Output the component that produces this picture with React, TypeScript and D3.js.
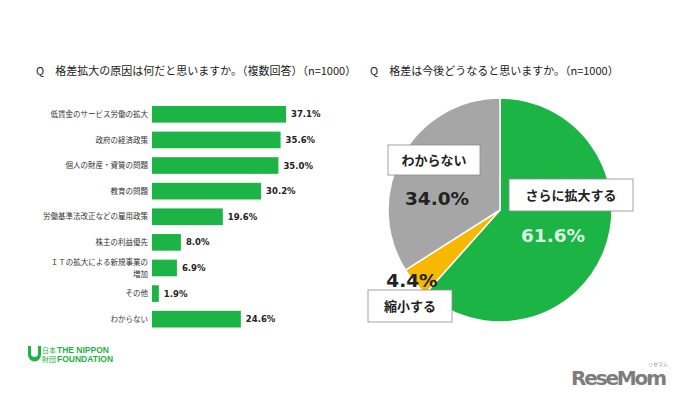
import React, { useRef, useEffect } from "react";
import * as d3 from "d3";

const causes = [
  "低賃金のサービス労働の拡大",
  "政府の経済政策",
  "個人の財産・資質の問題",
  "教育の問題",
  "労働基準法改正などの雇用政策",
  "株主の利益優先",
  "ＩＴの拡大による新規事業の\n増加",
  "その他",
  "わからない",
];
const causeValues = [37.1, 35.6, 35.0, 30.2, 19.6, 8.0, 6.9, 1.9, 24.6];

const futureLabels = ["さらに拡大する", "縮小する", "わからない"];
const futureValues = [61.6, 4.4, 34.0];
const futureColors = ["#1db446", "#f6b800", "#a6a6a6"];

const JP = "'Noto Sans CJK JP', 'Noto Sans', sans-serif";
const NUM = "'DejaVu Sans', Verdana, sans-serif";

const App = () => {
  const svgRef = useRef<SVGSVGElement>(null);

  useEffect(() => {
    const svg = d3.select(svgRef.current);
    svg.selectAll("*").remove();

    // titles
    svg
      .append("text")
      .attr("x", 36)
      .attr("y", 75)
      .attr("font-family", JP)
      .attr("font-size", 11)
      .attr("fill", "#222")
      .text("Q　格差拡大の原因は何だと思いますか。（複数回答）（n=1000）");

    svg
      .append("text")
      .attr("x", 370)
      .attr("y", 75)
      .attr("font-family", JP)
      .attr("font-size", 11)
      .attr("fill", "#222")
      .text("Q　格差は今後どうなると思いますか。（n=1000）");

    // bar chart
    const x = d3.scaleLinear().domain([0, 37.1]).range([152, 286]);
    const y = d3
      .scaleBand()
      .domain(causes)
      .range([101.5, 332])
      .paddingInner(0.35)
      .paddingOuter(0.175);

    const bars = svg.append("g");
    bars
      .selectAll("rect")
      .data(causeValues)
      .join("rect")
      .attr("x", x(0))
      .attr("y", (d, i) => y(causes[i])!)
      .attr("width", (d) => x(d) - x(0))
      .attr("height", y.bandwidth())
      .attr("fill", "#1db446");

    bars
      .selectAll("text.val")
      .data(causeValues)
      .join("text")
      .attr("class", "val")
      .attr("x", (d) => x(d) + 5)
      .attr("y", (d, i) => y(causes[i])! + y.bandwidth() / 2)
      .attr("dy", "0.35em")
      .attr("font-family", NUM)
      .attr("font-weight", "bold")
      .attr("font-size", 8.5)
      .attr("fill", "#222")
      .text((d) => d.toFixed(1) + "%");

    causes.forEach((c, i) => {
      const lines = c.split("\n");
      const cy = y(c)! + y.bandwidth() / 2;
      const t = svg
        .append("text")
        .attr("x", 148)
        .attr("font-family", JP)
        .attr("font-size", 7.5)
        .attr("fill", "#333")
        .attr("text-anchor", "end");
      lines.forEach((l, j) => {
        t.append("tspan")
          .attr("x", 148)
          .attr("y", cy + (j - (lines.length - 1) / 2) * 12)
          .attr("dy", "0.35em")
          .text(l);
      });
    });

    // pie chart
    const cx = 500;
    const cyP = 210;
    const r = 112;
    const pie = d3.pie<number>().sort(null)(futureValues);
    const arc = d3.arc<d3.PieArcDatum<number>>().innerRadius(0).outerRadius(r);
    const pg = svg.append("g").attr("transform", `translate(${cx},${cyP})`);
    pg.selectAll("path")
      .data(pie)
      .join("path")
      .attr("d", arc)
      .attr("fill", (d, i) => futureColors[i])
      .attr("stroke", "#fff")
      .attr("stroke-width", 1.5);

    // label boxes
    const boxes = [
      { label: futureLabels[0], x0: 509, y0: 179, w: 124, h: 32 },
      { label: futureLabels[1], x0: 368, y0: 290, w: 84, h: 32 },
      { label: futureLabels[2], x0: 388, y0: 145, w: 92, h: 30 },
    ];
    boxes.forEach((b) => {
      svg
        .append("rect")
        .attr("x", b.x0)
        .attr("y", b.y0)
        .attr("width", b.w)
        .attr("height", b.h)
        .attr("fill", "#fff")
        .attr("stroke", "#8c8c8c")
        .attr("stroke-width", 0.8);
      svg
        .append("text")
        .attr("x", b.x0 + b.w / 2)
        .attr("y", b.y0 + b.h / 2)
        .attr("dy", "0.36em")
        .attr("text-anchor", "middle")
        .attr("font-family", JP)
        .attr("font-weight", "bold")
        .attr("font-size", 13)
        .attr("fill", "#222")
        .text(b.label);
    });

    const pcts = [
      { v: futureValues[0], x0: 553, y0: 235, c: "#d8f6e2" },
      { v: futureValues[1], x0: 412, y0: 280, c: "#222" },
      { v: futureValues[2], x0: 437, y0: 198, c: "#222" },
    ];
    pcts.forEach((p) => {
      svg
        .append("text")
        .attr("x", p.x0)
        .attr("y", p.y0)
        .attr("dy", "0.36em")
        .attr("text-anchor", "middle")
        .attr("font-family", NUM)
        .attr("font-weight", "bold")
        .attr("font-size", 18.5)
        .attr("fill", p.c)
        .text(p.v.toFixed(1) + "%");
    });

    // logo (Nippon Foundation)
    const logo = svg.append("g").attr("fill", "#1db446");
    logo
      .append("path")
      .attr(
        "d",
        "M28,346 L31,346 L31,355 A4,4 0 0 0 38,355 L38,346 L41,346 L41,355 A6.5,6.5 0 0 1 28,355 Z"
      );
    logo
      .append("text")
      .attr("x", 42)
      .attr("y", 353)
      .attr("font-family", JP)
      .attr("font-size", 7)
      .text("日本");
    logo
      .append("text")
      .attr("x", 42)
      .attr("y", 361.5)
      .attr("font-family", JP)
      .attr("font-size", 7)
      .text("財団");
    logo
      .append("text")
      .attr("x", 57)
      .attr("y", 353)
      .attr("font-family", "'Liberation Sans', Arial, sans-serif")
      .attr("font-weight", "bold")
      .attr("font-size", 8.5)
      .text("THE NIPPON");
    logo
      .append("text")
      .attr("x", 57)
      .attr("y", 362)
      .attr("font-family", "'Liberation Sans', Arial, sans-serif")
      .attr("font-weight", "bold")
      .attr("font-size", 8.5)
      .text("FOUNDATION");

    // watermark
    svg
      .append("text")
      .attr("x", 571)
      .attr("y", 385)
      .attr("font-family", "'DejaVu Sans', sans-serif")
      .attr("font-weight", "bold")
      .attr("font-size", 20)
      .attr("fill", "#7d7d7d")
      .attr("textLength", 96)
      .text("ReseMom");
    svg
      .append("text")
      .attr("x", 648)
      .attr("y", 366)
      .attr("font-family", JP)
      .attr("font-size", 5)
      .attr("fill", "#888")
      .text("リセマム");
  }, []);

  return (
    <svg
      ref={svgRef}
      width={680}
      height={398}
      style={{ position: "absolute", left: 0, top: 0, background: "#fff" }}
    />
  );
};

export default App;
